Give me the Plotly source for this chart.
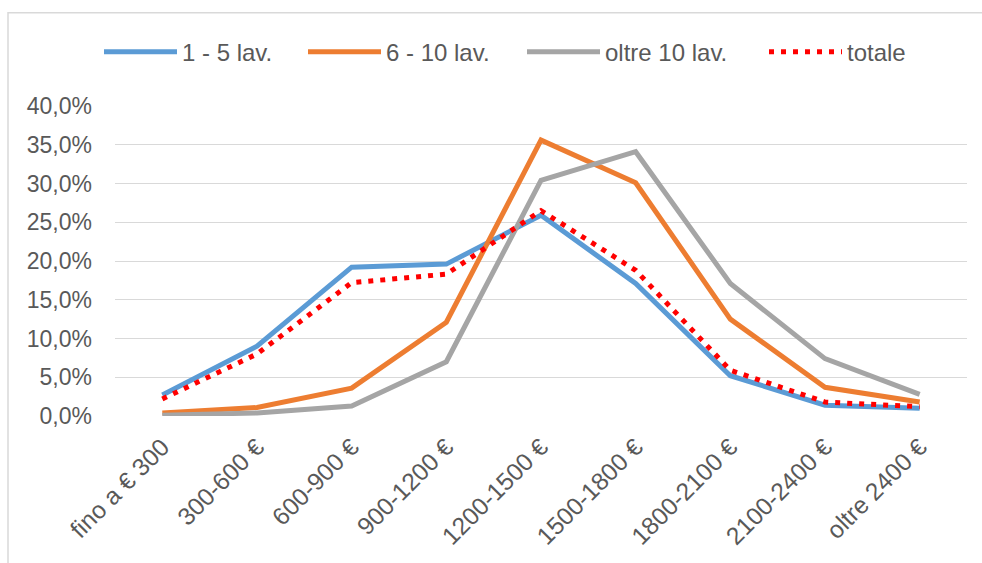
import plotly.graph_objects as go

categories = ["fino a € 300", "300-600 €", "600-900 €", "900-1200 €", "1200-1500 €",
              "1500-1800 €", "1800-2100 €", "2100-2400 €", "oltre 2400 €"]
s_1_5 = [0.027, 0.090, 0.192, 0.196, 0.259, 0.171, 0.052, 0.014, 0.010]
s_6_10 = [0.004, 0.011, 0.036, 0.121, 0.356, 0.301, 0.125, 0.037, 0.018]
s_oltre10 = [0.001, 0.004, 0.013, 0.070, 0.304, 0.341, 0.171, 0.074, 0.028]
s_totale = [0.022, 0.080, 0.172, 0.183, 0.265, 0.188, 0.059, 0.018, 0.012]
names = ["1 - 5 lav.", "6 - 10 lav.", "oltre 10 lav.", "totale"]
colors = ["#5B9BD5", "#ED7D31", "#A5A5A5", "#FF0000"]
dashes = ["solid", "solid", "solid", "5px,7px"]

FONT = "Liberation Sans"
W, H = 982, 563
L, R, T, B = 115, 15, 105.5, 147
pw, ph = W - L - R, H - T - B


def px_x(p):
    return (p - L) / pw


def px_y(p):
    return (H - B - p) / ph


legend_x = [99, 303, 522, 764]
legend_ids = ["legend", "legend2", "legend3", "legend4"]

fig = go.Figure()
for name, vals, col, dsh, lid in zip(names, [s_1_5, s_6_10, s_oltre10, s_totale],
                                     colors, dashes, legend_ids):
    fig.add_trace(go.Scatter(x=categories, y=vals, name=name, mode="lines",
                             line=dict(color=col, width=5, dash=dsh), legend=lid))

legend_style = dict(orientation="h", xanchor="left", yanchor="middle", y=px_y(51.5),
                    font=dict(family=FONT, size=24, color="#595959"),
                    bgcolor="rgba(0,0,0,0)", itemwidth=73)

fig.update_layout(
    width=W, height=H,
    margin=dict(l=L, r=R, t=T, b=B, autoexpand=False),
    paper_bgcolor="white", plot_bgcolor="white",
    separators=",.",
    font=dict(family=FONT, color="#595959", size=23),
    showlegend=True,
    xaxis=dict(type="category", range=[-0.5, 8.5], showgrid=False, showline=False,
               zeroline=False, ticks="", tickangle=-45,
               tickfont=dict(family=FONT, size=24.5, color="#595959"),
               ticklabelstandoff=11),
    yaxis=dict(range=[0, 0.4], dtick=0.05, tickformat=".1%", showgrid=True,
               gridcolor="#D9D9D9", gridwidth=1.3, zeroline=False, showline=False,
               ticks="", tickfont=dict(family=FONT, size=23, color="#595959"),
               ticklabelstandoff=22),
    shapes=[dict(type="rect", xref="paper", yref="paper",
                 x0=px_x(8), x1=px_x(1000), y0=px_y(600), y1=px_y(12),
                 line=dict(color="#D9D9D9", width=1.5), fillcolor="rgba(0,0,0,0)",
                 layer="below")],
)
for lid, lx in zip(legend_ids, legend_x):
    fig.update_layout({lid: dict(legend_style, x=px_x(lx))})

fig.write_html("out.html", config={"displayModeBar": False},
               post_script="document.body.style.margin='0';document.body.style.overflow='hidden';")
